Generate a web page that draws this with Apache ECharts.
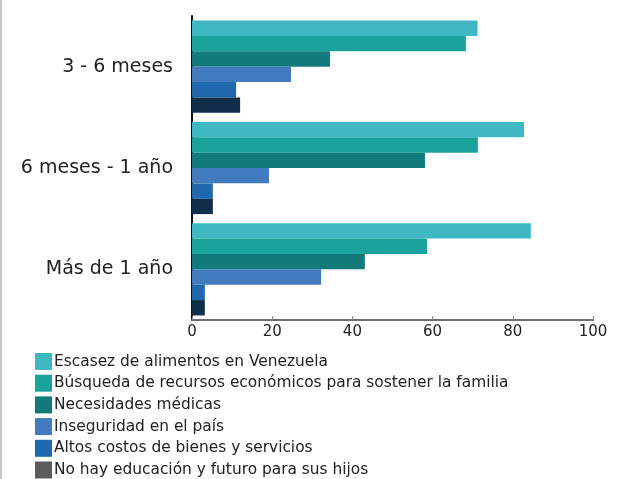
<!DOCTYPE html>
<html>
<head>
<meta charset="utf-8">
<script src="https://cdn.jsdelivr.net/npm/echarts@6/dist/echarts.min.js"></script>
<style>
html,body{margin:0;padding:0;background:#fff;}
#c{width:622px;height:479px;box-sizing:border-box;border-left:2px solid #c8c8c8;}
</style>
</head>
<body>
<div id="c"></div>
<script>
const categories = ["3 - 6 meses", "6 meses - 1 año", "Más de 1 año"];
const seriesNames = [
  "Escasez de alimentos en Venezuela",
  "Búsqueda de recursos económicos para sostener la familia",
  "Necesidades médicas",
  "Inseguridad en el país",
  "Altos costos de bienes y servicios",
  "No hay educación y futuro para sus hijos"
];
const escasez = [71.2, 82.8, 84.5];
const busqueda = [68.3, 71.3, 58.6];
const medicas = [34.4, 58.1, 43.1];
const inseguridad = [24.7, 19.2, 32.2];
const costos = [11.0, 5.2, 3.2];
const educacion = [12.0, 5.2, 3.2];
const xTicks = [0, 20, 40, 60, 80, 100];

const values = [escasez, busqueda, medicas, inseguridad, costos, educacion];
const barColors = ["#3fb8c1", "#1aa39d", "#127a7a", "#427bbf", "#1f68ad", "#112e4b"];
const legendColors = ["#3fb8c1", "#1aa39d", "#127a7a", "#427bbf", "#1f68ad", "#5c5c5c"];
const FONT = "DejaVu Sans";

const chart = echarts.init(document.getElementById('c'));
chart.setOption({
  animation: false,
  grid: {left: 190, right: 29, top: 16, bottom: 159, containLabel: false},
  legend: {
    orient: 'vertical', left: 33, top: 353, height: 130, padding: 0,
    itemWidth: 17, itemHeight: 17, itemGap: 4.7,
    icon: 'rect',
    textStyle: {fontFamily: FONT, fontSize: 15.4, color: '#222', padding: [0,0,0,-3]},
    data: seriesNames.map((n, i) => ({name: n, itemStyle: {color: legendColors[i]}}))
  },
  xAxis: {
    type: 'value', min: xTicks[0], max: xTicks[xTicks.length-1], interval: 20,
    splitLine: {show: false},
    axisLine: {show: true, lineStyle: {color: '#6e6e6e', width: 2}},
    axisTick: {show: true, inside: true, length: 4, lineStyle: {color: '#888'}},
    axisLabel: {fontFamily: FONT, fontSize: 15, color: '#222', margin: 5}
  },
  yAxis: {
    type: 'category', data: categories, inverse: true,
    axisLine: {show: true, lineStyle: {color: '#111', width: 2}},
    axisTick: {show: false},
    axisLabel: {fontFamily: FONT, fontSize: 19, color: '#222', margin: 19, padding: [0,0,5,0]}
  },
  series: values.map((v, i) => ({
    name: seriesNames[i], type: 'bar', data: v,
    barGap: '0%', barCategoryGap: '9%',
    itemStyle: {color: barColors[i]}
  }))
});
</script>
</body>
</html>
